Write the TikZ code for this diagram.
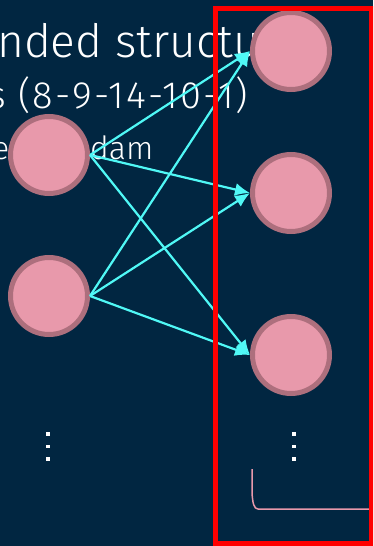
\documentclass[tikz,border=0pt]{standalone}
\usepackage{fontspec}
\setmainfont{Fira Sans}[UprightFont=* Light]
\newfontfamily\spacedfont{Fira Sans}[UprightFont=* Light, LetterSpace=5.5]
\usetikzlibrary{arrows.meta}
\definecolor{bgnavy}{HTML}{012641}
\definecolor{nodepink}{HTML}{E899AB}
\definecolor{nodeedge}{HTML}{AD6F7D}
\definecolor{arrowcyan}{HTML}{50F8F6}
\definecolor{framered}{HTML}{FF0000}
\tikzset{
  neuron/.style={circle, fill=nodepink, draw=nodeedge, line width=5pt, minimum size=77pt, inner sep=0pt},
  conn/.style={draw=arrowcyan, line width=2.2pt, -{Latex[length=15pt,width=13pt]}},
  dotbox/.style={rectangle, fill=white, minimum size=3.5pt, inner sep=0pt},
  bigtext/.style={text=white, anchor=base west, inner sep=0pt, font=\fontsize{46pt}{54pt}\selectfont},
  numtext/.style={text=white, anchor=base west, inner sep=0pt, font=\spacedfont\fontsize{38pt}{44pt}\selectfont},
  midtext/.style={text=white, anchor=base west, inner sep=0pt, font=\fontsize{32pt}{38pt}\selectfont},
}
\begin{document}
\begin{tikzpicture}[x=1pt,y=-1pt]
\useasboundingbox (0,0) rectangle (373,546);
\clip (0,0) rectangle (373,546);
\fill[bgnavy] (0,0) rectangle (373,546);
% title texts (partly clipped)
\node[bigtext] (t1) at (-3,57) {nded structu};
\node[numtext] (t2) at (-12,108) {s (8-9-14-10-1)};
\node[midtext] (t3a) at (-8,159) {e};
\node[midtext] (t3b) at (90,159) {dam};
% neurons
\node[neuron] (a1) at (49,155) {};
\node[neuron] (a2) at (49,296) {};
\node[neuron] (b1) at (291,51) {};
\node[neuron] (b2) at (291,193) {};
\node[neuron] (b3) at (291,355) {};
% connections
\foreach \s in {a1,a2}{
  \foreach \t in {b1,b2,b3}{
    \draw[conn] (\s.east) -- (\t.west);
  }
}
% vertical dots
\node[dotbox] (l1) at (48,434) {};
\node[dotbox] (l2) at (48,446.5) {};
\node[dotbox] (l3) at (48,459) {};
\node[dotbox] (r1) at (294,434) {};
\node[dotbox] (r2) at (294,446.5) {};
\node[dotbox] (r3) at (294,459) {};
% small curve
\draw[nodepink, line width=1.5pt] (252,469) -- (252,492) .. controls (252.5,503) and (254,509) .. (258,509) -- (370,509);
% red frame
\draw[framered, line width=5pt] (215.5,8) rectangle (371.5,543.5);
\end{tikzpicture}
\end{document}
